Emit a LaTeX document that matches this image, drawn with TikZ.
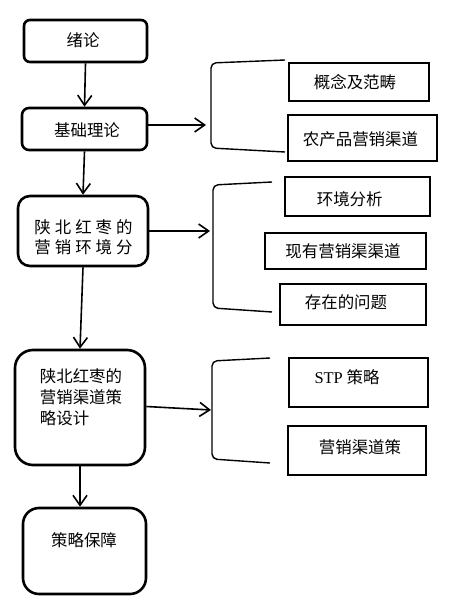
\documentclass[tikz,border=0pt]{standalone}
\usepackage{fontspec}
\newfontfamily\cjk{Noto Sans CJK SC}
\newfontfamily\tnr{Liberation Serif}
\usetikzlibrary{arrows.meta}
\begin{document}
\begin{tikzpicture}[x=1bp,y=-1bp,
  box/.style={draw, line width=2.6bp, inner sep=0pt},
  txt/.style={font=\cjk\fontsize{16.5}{20}\selectfont, inner sep=0pt},
  arr/.style={line width=1.6bp, -{Straight Barb[length=10bp,width=14bp]}},
  brk/.style={line width=1.4bp, rounded corners=5bp}]
\useasboundingbox (0,0) rectangle (472,603);
\fill[white] (0,0) rectangle (472,603);
% left column
\node[box, rounded corners=6bp, minimum width=123bp, minimum height=42bp] (b1) at (85.5,41) {};
\node[txt] (t1) at (83,40) {绪论};
\node[box, rounded corners=7bp, minimum width=125bp, minimum height=42bp] (b2) at (84.5,129) {};
\node[txt] (t2) at (87,130) {基础理论};
\node[box, rounded corners=12bp, minimum width=130bp, minimum height=70bp] (b3) at (83,231) {};
\node[txt, align=center] (t3) at (83.5,237) {陕\hspace{4bp}北\hspace{4bp}红\hspace{4bp}枣\hspace{4bp}的\\营\hspace{4bp}销\hspace{4bp}环\hspace{4bp}境\hspace{4bp}分};
\node[box, rounded corners=18bp, minimum width=130bp, minimum height=115bp] (b4) at (80,407.5) {};
\node[txt, align=left, font=\cjk\fontsize{16.5}{21}\selectfont] (t4) at (81,397) {陕北红枣的\\营销渠道策\\略设计};
\node[box, rounded corners=16bp, minimum width=123bp, minimum height=86bp] (b5) at (84.5,551) {};
\node[txt] (t5) at (84,540) {策略保障};
% right boxes
\node[box, minimum width=140bp, minimum height=38bp] (a1) at (359,82) {};
\node[txt] (ta1) at (355,82) {概念及范畴};
\node[box, minimum width=149bp, minimum height=46bp] (a2) at (362.5,138) {};
\node[txt] (ta2) at (360.5,139) {农产品营销渠道};
\node[box, minimum width=145bp, minimum height=39bp] (c1) at (357.5,196.5) {};
\node[txt] (tc1) at (349.7,199) {环境分析};
\node[box, minimum width=161bp, minimum height=36bp] (c2) at (345.5,251) {};
\node[txt] (tc2) at (343,251) {现有营销渠渠道};
\node[box, minimum width=146bp, minimum height=41bp] (c3) at (353,304.5) {};
\node[txt] (tc3) at (346,302) {存在的问题};
\node[box, minimum width=139bp, minimum height=49bp] (d1) at (358.5,382.5) {};
\node[txt] (td1) at (347,377) {{\tnr STP} 策略};
\node[box, minimum width=138bp, minimum height=49bp] (d2) at (357,450.5) {};
\node[txt] (td2) at (360,447) {营销渠道策};
% brackets
\draw[brk] (285,60) -- (211,63) -- (211,148) -- (285,152);
\draw[brk] (272,182) -- (213,185) -- (213,308) -- (272,312);
\draw[brk] (270,358) -- (212,361) -- (212,459) -- (270,463);
% arrow ends
\coordinate (e1) at (206,125);
\coordinate (e2) at (210,231);
\coordinate (e3) at (211,410);
% connectors
\draw[arr] (b1.south) -- (b2.north);
\draw[arr] (b2.east |- e1) -- (e1);
\draw[arr] (b2.south) -- (b3.north);
\draw[arr] (b3.east |- e2) -- (e2);
\draw[arr] (b3.south) -- (b4.north);
\draw[arr] ([yshift=1bp]b4.east) -- (e3);
\draw[arr] (b4.south) -- (b4.south |- b5.north);
\end{tikzpicture}
\end{document}
